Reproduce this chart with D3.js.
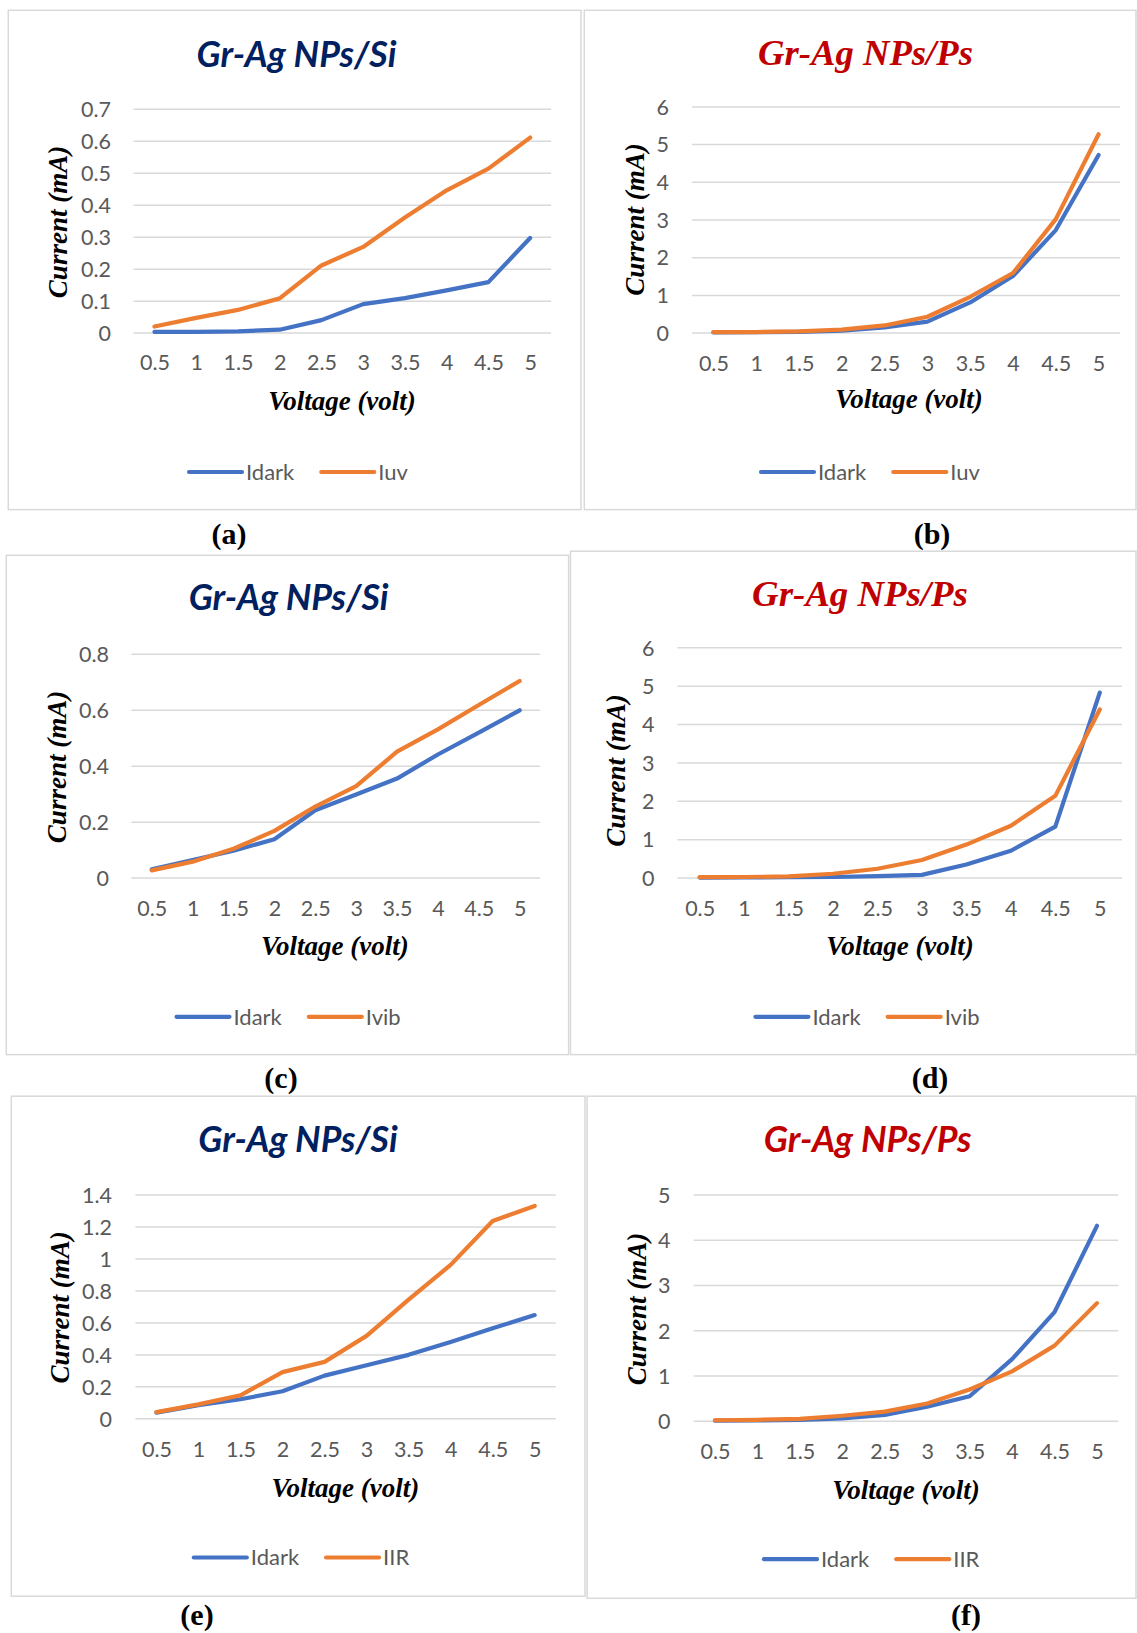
<!DOCTYPE html>
<html>
<head>
<meta charset="utf-8">
<script src="https://cdn.jsdelivr.net/npm/d3@7"></script>
<style>
  body { margin: 0; background: #fff; }
  svg { display: block; }
</style>
</head>
<body>
<svg id="fig" width="1137" height="1633"></svg>
<script>
// ---- data ----
const voltages = ['0.5', '1', '1.5', '2', '2.5', '3', '3.5', '4', '4.5', '5'];

const idarkA = [0.002, 0.002, 0.004, 0.009, 0.039, 0.089, 0.108, 0.132, 0.158, 0.296];
const iuvA   = [0.019, 0.046, 0.071, 0.107, 0.210, 0.268, 0.360, 0.445, 0.513, 0.610];
const idarkB = [0.005, 0.010, 0.020, 0.050, 0.140, 0.290, 0.800, 1.500, 2.720, 4.710];
const iuvB   = [0.010, 0.015, 0.030, 0.080, 0.190, 0.420, 0.950, 1.580, 3.010, 5.260];
const idarkC = [0.030, 0.063, 0.096, 0.137, 0.241, 0.297, 0.354, 0.440, 0.518, 0.598];
const ivibC  = [0.026, 0.057, 0.103, 0.167, 0.254, 0.327, 0.450, 0.530, 0.617, 0.703];
const idarkD = [0.000, 0.005, 0.010, 0.015, 0.040, 0.072, 0.340, 0.700, 1.330, 4.820];
const ivibD  = [0.010, 0.015, 0.030, 0.100, 0.230, 0.457, 0.860, 1.350, 2.130, 4.380];
const idarkE = [0.035, 0.082, 0.119, 0.169, 0.267, 0.332, 0.397, 0.477, 0.563, 0.646];
const iirE   = [0.039, 0.087, 0.144, 0.289, 0.353, 0.516, 0.743, 0.960, 1.235, 1.329];
const idarkF = [0.000, 0.005, 0.020, 0.050, 0.130, 0.310, 0.540, 1.360, 2.400, 4.310];
const iirF   = [0.010, 0.020, 0.040, 0.110, 0.200, 0.380, 0.690, 1.090, 1.660, 2.600];

const ticksA = [0, 0.1, 0.2, 0.3, 0.4, 0.5, 0.6, 0.7];
const ticksB = [0, 1, 2, 3, 4, 5, 6];
const ticksC = [0, 0.2, 0.4, 0.6, 0.8];
const ticksD = [0, 1, 2, 3, 4, 5, 6];
const ticksE = [0, 0.2, 0.4, 0.6, 0.8, 1, 1.2, 1.4];
const ticksF = [0, 1, 2, 3, 4, 5];

const titleSi = 'Gr-Ag NPs/Si';
const titlePs = 'Gr-Ag NPs/Ps';
const captions = ['(a)', '(b)', '(c)', '(d)', '(e)', '(f)'];

// ---- style ----
const BLUE = '#4472C4';
const ORANGE = '#ED7D31';
const GRID = '#D9D9D9';
const LABEL = '#595959';
const SANS = 'Lato, "Open Sans", sans-serif';
const SERIF = '"Liberation Serif", "Times New Roman", serif';
const TICK_SIZE = 21.5;

// layout of each panel (pixel boxes measured on the figure)
const panels = [
    { frame: [8.3, 10.3, 572.7, 499.3], plot: [133.6, 551, 108.8, 332.6], ticks: ticksA,
      series: [idarkA, iuvA], names: ['Idark', 'Iuv'],
      title: titleSi, tFont: 'si', tPos: [296.5, 66.5, 200],
      yLabX: 111, yTitle: [58, 222], xTitle: [342, 410], xTickY: 370,
      legend: [189, 472], cap: [229, 544] },
    { frame: [584.3, 10.3, 551.7, 499.3], plot: [692, 1120, 106.4, 332.6], ticks: ticksB,
      series: [idarkB, iuvB], names: ['Idark', 'Iuv'],
      title: titlePs, tFont: 'serif', tPos: [865.5, 65, 215],
      yLabX: 669, yTitle: [635, 219.5], xTitle: [909, 408], xTickY: 371,
      legend: [761, 472], cap: [932, 544] },
    { frame: [6.3, 555.3, 562.3, 499.3], plot: [131.3, 540.1, 653.8, 877.6], ticks: ticksC,
      series: [idarkC, ivibC], names: ['Idark', 'Ivib'],
      title: titleSi, tFont: 'si', tPos: [288.6, 610.4, 200],
      yLabX: 109, yTitle: [57.3, 767], xTitle: [334.8, 954.8], xTickY: 916,
      legend: [176.5, 1016.8], cap: [281, 1088] },
    { frame: [570.5, 551.2, 565.5, 503.4], plot: [677.4, 1122, 647.3, 877.6], ticks: ticksD,
      series: [idarkD, ivibD], names: ['Idark', 'Ivib'],
      title: titlePs, tFont: 'serif', tPos: [860, 606.3, 216],
      yLabX: 654.4, yTitle: [616, 770.5], xTitle: [900, 954.8], xTickY: 916,
      legend: [755.4, 1016.8], cap: [930, 1088] },
    { frame: [11.3, 1096.2, 573.7, 500], plot: [135.4, 555.7, 1194.6, 1418.3], ticks: ticksE,
      series: [idarkE, iirE], names: ['Idark', 'IIR'],
      title: titleSi, tFont: 'si', tPos: [298, 1152.3, 199.4],
      yLabX: 112, yTitle: [60.2, 1307.3], xTitle: [345.4, 1496.9], xTickY: 1457,
      legend: [193.8, 1557.5], cap: [197, 1625] },
    { frame: [587.1, 1096.2, 548.9, 502.1], plot: [693.7, 1118.2, 1194.6, 1420.7], ticks: ticksF,
      series: [idarkF, iirF], names: ['Idark', 'IIR'],
      title: titlePs, tFont: 'ps', tPos: [867.7, 1151.6, 207.8],
      yLabX: 670.6, yTitle: [636.8, 1309], xTitle: [906, 1498.6], xTickY: 1458.8,
      legend: [764, 1559.2], cap: [966, 1625] }
];

const svg = d3.select('#fig');
const colors = [BLUE, ORANGE];

panels.forEach((p, i) => drawPanel(p, captions[i]));

function drawPanel(p, caption) {
    const [fx, fy, fw, fh] = p.frame;
    const [x0, x1, yTop, yBot] = p.plot;
    const g = svg.append('g');

    g.append('rect')
        .attr('x', fx).attr('y', fy).attr('width', fw).attr('height', fh)
        .attr('fill', 'none').attr('stroke', GRID).attr('stroke-width', 1.5);

    const x = d3.scalePoint().domain(voltages).range([x0, x1]).padding(0.5);
    const y = d3.scaleLinear().domain([0, d3.max(p.ticks)]).range([yBot, yTop]);

    // gridlines
    const grid = g.append('g')
        .attr('transform', 'translate(' + x0 + ',0)')
        .call(d3.axisLeft(y).tickValues(p.ticks).tickSize(-(x1 - x0)).tickFormat(''));
    grid.select('.domain').remove();
    grid.selectAll('line').attr('stroke', GRID).attr('stroke-width', 1.5);

    // y tick labels
    const yAx = g.append('g')
        .attr('transform', 'translate(' + p.yLabX + ',0)')
        .call(d3.axisLeft(y).tickValues(p.ticks).tickSize(0).tickPadding(0).tickFormat(d => String(d)));
    yAx.select('.domain').remove();
    yAx.selectAll('text')
        .attr('font-family', SANS).attr('font-size', TICK_SIZE).attr('fill', LABEL)
        .attr('dy', '0.36em');

    // x tick labels
    const xAx = g.append('g')
        .attr('transform', 'translate(0,' + p.xTickY + ')')
        .call(d3.axisBottom(x).tickSize(0).tickPadding(0));
    xAx.select('.domain').remove();
    xAx.selectAll('text')
        .attr('font-family', SANS).attr('font-size', TICK_SIZE).attr('fill', LABEL)
        .attr('dy', 0).attr('y', 0);

    // series lines
    const line = d3.line().x((d, k) => x(voltages[k])).y(d => y(d));
    p.series.forEach((s, k) => {
        g.append('path')
            .datum(s)
            .attr('d', line)
            .attr('fill', 'none')
            .attr('stroke', colors[k])
            .attr('stroke-width', 4.2)
            .attr('stroke-linecap', 'round')
            .attr('stroke-linejoin', 'round');
    });

    // title
    const t = g.append('text')
        .attr('x', p.tPos[0]).attr('y', p.tPos[1])
        .attr('text-anchor', 'middle')
        .attr('font-family', p.tFont === 'serif' ? SERIF : SANS)
        .attr('font-weight', 'bold').attr('font-style', 'italic')
        .attr('fill', p.tFont === 'si' ? '#002060' : '#C00000')
        .attr('font-size', 34)
        .text(p.title);
    fitWidth(t, 34, p.tPos[2]);

    // axis titles
    g.append('text')
        .attr('x', p.xTitle[0]).attr('y', p.xTitle[1])
        .attr('text-anchor', 'middle')
        .attr('font-family', SERIF).attr('font-weight', 'bold').attr('font-style', 'italic')
        .attr('font-size', 27).attr('fill', '#000')
        .text('Voltage (volt)');

    g.append('text')
        .attr('transform', 'translate(' + p.yTitle[0] + ',' + p.yTitle[1] + ') rotate(-90)')
        .attr('text-anchor', 'middle').attr('dy', '0.33em')
        .attr('font-family', SERIF).attr('font-weight', 'bold').attr('font-style', 'italic')
        .attr('font-size', 27).attr('fill', '#000')
        .text('Current (mA)');

    // legend
    let lx = p.legend[0];
    const ly = p.legend[1];
    p.names.forEach((name, k) => {
        g.append('line')
            .attr('x1', lx).attr('x2', lx + 53).attr('y1', ly).attr('y2', ly)
            .attr('stroke', colors[k]).attr('stroke-width', 4.2)
            .attr('stroke-linecap', 'round');
        const lt = g.append('text')
            .attr('x', lx + 57).attr('y', ly).attr('dy', '0.36em')
            .attr('font-family', SANS).attr('font-size', 22).attr('fill', LABEL)
            .text(name);
        lx = lx + 57 + lt.node().getComputedTextLength() + 27;
    });

    // panel caption
    g.append('text')
        .attr('x', p.cap[0]).attr('y', p.cap[1])
        .attr('text-anchor', 'middle')
        .attr('font-family', SERIF).attr('font-weight', 'bold')
        .attr('font-size', 30).attr('fill', '#000')
        .text(caption);
}

function fitWidth(sel, size, target) {
    const w = sel.node().getComputedTextLength();
    if (w > 0) sel.attr('font-size', size * target / w);
}
</script>
</body>
</html>
